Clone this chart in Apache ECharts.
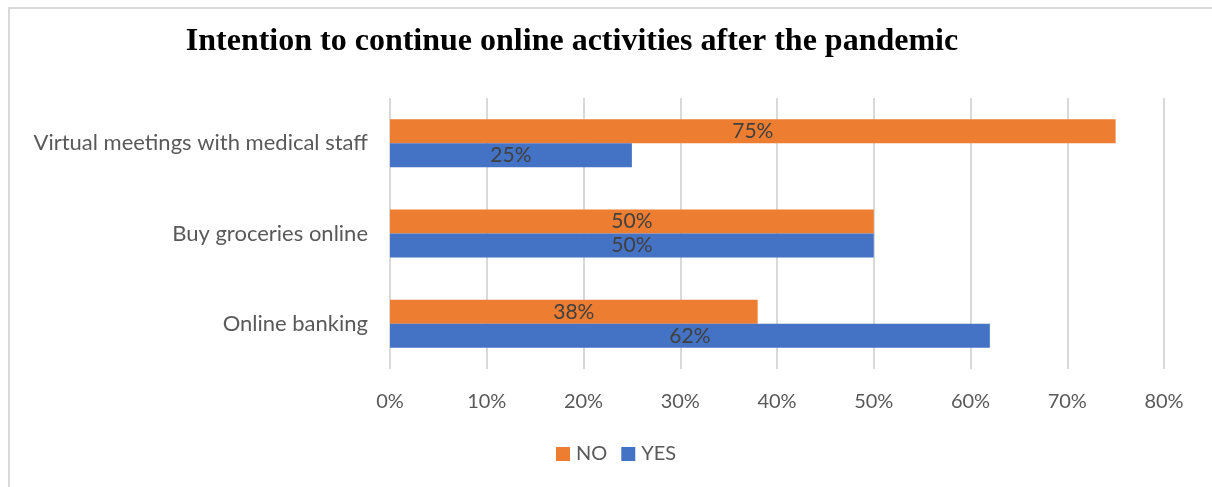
<!DOCTYPE html>
<html>
<head>
<meta charset="utf-8">
<script src="https://cdn.jsdelivr.net/npm/echarts@6/dist/echarts.min.js"></script>
<style>
  html, body { margin: 0; padding: 0; background: #fff; }
  #chart { width: 1212px; height: 487px; }
</style>
</head>
<body>
<div id="chart"></div>
<script>
// Survey answers: share of respondents per activity
const categories = ['Virtual meetings with medical staff', 'Buy groceries online', 'Online banking'];
const noValues = [75, 50, 38];
const yesValues = [25, 50, 62];
const xTicks = [0, 10, 20, 30, 40, 50, 60, 70, 80];

const labelFont = 'Lato, "Open Sans", sans-serif';

const chart = echarts.init(document.getElementById('chart'), null, { renderer: 'canvas' });

chart.setOption({
  animation: false,
  backgroundColor: '#ffffff',
  title: {
    text: 'Intention to continue online activities after the pandemic',
    left: 567,
    top: 21,
    textAlign: 'center',
    textStyle: {
      fontFamily: '"Liberation Serif", "Times New Roman", serif',
      fontWeight: 'bold',
      fontSize: 32,
      color: '#000000'
    }
  },
  graphic: [{
    type: 'rect',
    shape: { x: 9, y: 8, width: 1400, height: 700 },
    style: { fill: 'none', stroke: '#d9d9d9', lineWidth: 2 },
    silent: true,
    z: -1
  }],
  legend: {
    data: ['NO', 'YES'],
    left: 551,
    top: 439,
    itemWidth: 14,
    itemHeight: 14,
    itemGap: 14,
    icon: 'rect',
    textStyle: { fontFamily: labelFont, fontSize: 20, color: '#595959', padding: [0, 0, 0, 1] }
  },
  grid: {
    left: 390,
    right: 48,
    top: 98,
    bottom: 118,
    containLabel: false
  },
  xAxis: {
    type: 'value',
    min: xTicks[0],
    max: xTicks[xTicks.length - 1],
    interval: 10,
    axisLine: { show: false },
    axisTick: { show: false },
    splitLine: { show: true, lineStyle: { color: '#d9d9d9', width: 2 } },
    axisLabel: {
      formatter: v => v + '%',
      fontFamily: labelFont,
      fontSize: 20,
      color: '#595959',
      margin: 23
    }
  },
  yAxis: {
    type: 'category',
    data: categories,
    inverse: true,
    axisLine: { show: false },
    axisTick: { show: false },
    axisLabel: {
      fontFamily: labelFont,
      fontSize: 22,
      color: '#595959',
      margin: 22
    }
  },
  series: [
    {
      name: 'NO',
      type: 'bar',
      data: noValues,
      barWidth: 24,
      barGap: '0%',
      itemStyle: { color: '#ED7D31' },
      label: {
        show: true,
        position: 'inside',
        formatter: p => p.value + '%',
        fontFamily: labelFont,
        fontSize: 21,
        color: '#404040'
      }
    },
    {
      name: 'YES',
      type: 'bar',
      data: yesValues,
      barWidth: 24,
      barGap: '0%',
      itemStyle: { color: '#4472C4' },
      label: {
        show: true,
        position: 'inside',
        formatter: p => p.value + '%',
        fontFamily: labelFont,
        fontSize: 21,
        color: '#404040'
      }
    }
  ]
});
</script>
</body>
</html>
